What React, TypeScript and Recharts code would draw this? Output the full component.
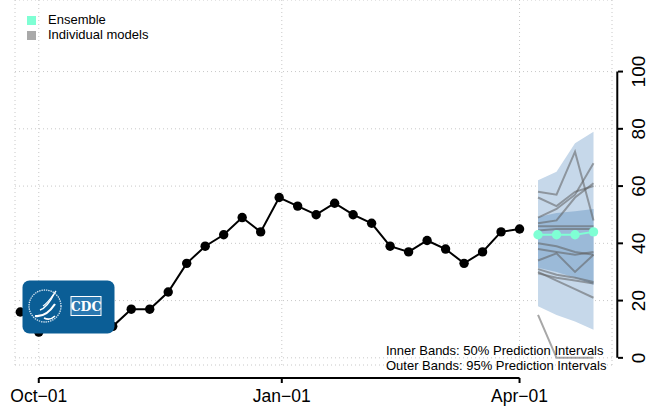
import React from "react";
import {
  ComposedChart,
  Line,
  Area,
  XAxis,
  YAxis,
  CartesianGrid,
  ReferenceLine,
} from "recharts";

// observed weekly counts (Saturdays)
const obsDates = [
  "2022-09-24", "2022-10-01", "2022-10-08", "2022-10-15", "2022-10-22", "2022-10-29",
  "2022-11-05", "2022-11-12", "2022-11-19", "2022-11-26", "2022-12-03", "2022-12-10",
  "2022-12-17", "2022-12-24", "2022-12-31", "2023-01-07", "2023-01-14", "2023-01-21",
  "2023-01-28", "2023-02-04", "2023-02-11", "2023-02-18", "2023-02-25", "2023-03-04",
  "2023-03-11", "2023-03-18", "2023-03-25", "2023-04-01",
];
const observed = [
  16, 9, 12, 13, 12, 11, 17, 17, 23, 33, 39, 43, 49, 44, 56, 53, 50, 54, 50, 47,
  39, 37, 41, 38, 33, 37, 44, 45,
];

// forecast horizon
const fcDates = ["2023-04-08", "2023-04-15", "2023-04-22", "2023-04-29"];
const ensemble = [43, 43, 43, 44];
const lo95 = [18, 15, 12.7, 9.8];
const hi95 = [62, 65, 75, 79];
const lo50 = [31.5, 30, 28, 25.5];
const hi50 = [49.2, 50.6, 51.2, 52];

// individual model forecasts
const models = [
  [58, 57, 72, 48],
  [49, 52, 57, 68],
  [47, 48, 56, 61],
  [46, 46, 46, 46],
  [44.5, 45, 45, 45],
  [40, 39, 37, 36],
  [38, 37, 36, 37],
  [34, 36.5, 30, 36],
  [31, 29, 28, 26.5],
  [30, 27, 24, 21],
  [15, 0, 0, 0],
  [29.5, 28, 27, 26],
  [56, 53, 58, 60],
];

const xTickDates = ["2022-10-01", "2023-01-01", "2023-04-01"];
const xTickLabels = ["Oct\u221201", "Jan\u221201", "Apr\u221201"];
const yTicks = [0, 20, 40, 60, 80, 100];

const toTime = (d: string) => new Date(d + "T00:00:00Z").getTime();

const xMin = toTime("2022-09-22");
const xMax = toTime("2023-05-06");
const yAxisAt = toTime("2023-05-08");
const xAxisAt = -7;

const rows: any[] = [
  ...obsDates.map((d, i) => ({ t: toTime(d), observed: observed[i] })),
  ...fcDates.map((d, i) => {
    const row: any = {
      t: toTime(d),
      ensemble: ensemble[i],
      band95: [lo95[i], hi95[i]],
      band50: [lo50[i], hi50[i]],
    };
    models.forEach((m, k) => (row["m" + k] = m[i]));
    return row;
  }),
];

const FONT = "'Liberation Sans', Arial, Helvetica, sans-serif";

const XTick = (props: any) => {
  const { x, y, payload } = props;
  const idx = xTickDates.map(toTime).indexOf(payload.value);
  return (
    <g>
      <line x1={x} x2={x} y1={y + 13} y2={y + 18} stroke="#000" strokeWidth={2} />
      <text x={x} y={y + 37} textAnchor="middle" fontSize={17.5} fontFamily={FONT} fill="#000">
        {xTickLabels[idx]}
      </text>
    </g>
  );
};

const YTick = (props: any) => {
  const { x, y, payload } = props;
  return (
    <g>
      <line x1={x + 6} x2={x + 11} y1={y} y2={y} stroke="#000" strokeWidth={2} />
      <text
        x={x + 33}
        y={y}
        transform={`rotate(-90, ${x + 33}, ${y})`}
        textAnchor="middle"
        fontSize={19}
        fontFamily={FONT}
        fill="#000"
      >
        {payload.value}
      </text>
    </g>
  );
};

const CdcLogo = () => (
  <svg style={{ position: "absolute", left: 22, top: 280 }} width={94} height={54}>
    <rect x={0.5} y={0.5} width={92} height={53} rx={7} fill="#0b5e96" />
    <circle cx={23} cy={26} r={16} fill="none" stroke="#d8e6f2" strokeWidth={1.3} strokeDasharray="1.4 0.9" />
    <path d="M13 36 C20 37 27 33 33 24" stroke="#fff" strokeWidth={2.2} fill="none" />
    <path d="M18 30 C24 28 28 22 32 14" stroke="#fff" strokeWidth={1.6} fill="none" />
    <path d="M21 26 C26 23 29 18 34 11" stroke="#fff" strokeWidth={1.3} fill="none" />
    <path d="M22 38 C26 40 30 39 33 36" stroke="#fff" strokeWidth={1.6} fill="none" />
    <rect x={49} y={16.5} width={30} height={19} fill="#2a78b0" stroke="#fff" strokeWidth={1} />
    <text x={64} y={31} textAnchor="middle" fontFamily="'DejaVu Serif', serif" fontWeight="bold" fontSize={12.5} fill="#fff">
      CDC
    </text>
  </svg>
);

const Legendish = () => (
  <div style={{ position: "absolute", left: 0, top: 0, fontFamily: FONT, fontSize: 13, color: "#000" }}>
    <div style={{ position: "absolute", left: 27, top: 16, width: 9, height: 9, background: "#7FFFD4" }} />
    <div style={{ position: "absolute", left: 48, top: 12, whiteSpace: "nowrap" }}>Ensemble</div>
    <div style={{ position: "absolute", left: 27, top: 31, width: 9, height: 9, background: "#A9A9A9" }} />
    <div style={{ position: "absolute", left: 48, top: 27, whiteSpace: "nowrap" }}>Individual models</div>
  </div>
);

const Notes = () => (
  <svg style={{ position: "absolute", left: 0, top: 0 }} width={659} height={411}>
    <text x={386} y={355} fontSize={13} fontFamily={FONT} fill="#000">
      Inner Bands: 50% Prediction Intervals
    </text>
    <text x={386} y={370} fontSize={13} fontFamily={FONT} fill="#000">
      Outer Bands: 95% Prediction Intervals
    </text>
  </svg>
);

export default function App() {
  return (
    <div style={{ position: "absolute", left: 0, top: 0, width: 659, height: 411, background: "#fff" }}>
      <ComposedChart width={659} height={411} data={rows} margin={{ top: 0, right: 0, bottom: 0, left: 15 }}>
        <CartesianGrid stroke="#c8c8c8" strokeDasharray="1 3" />
        <XAxis
          dataKey="t"
          type="number"
          domain={[xMin, xMax]}
          allowDataOverflow
          ticks={xTickDates.map(toTime)}
          interval={0}
          tick={<XTick />}
          tickLine={false}
          axisLine={false}
          tickSize={0}
          tickMargin={0}
          height={46}
        />
        <YAxis
          orientation="right"
          type="number"
          domain={[-2.5, 125]}
          allowDataOverflow
          ticks={yTicks}
          interval={0}
          tick={<YTick />}
          tickLine={false}
          axisLine={false}
          tickSize={0}
          tickMargin={0}
          width={47}
        />
        <Area dataKey="band95" stroke="none" fill="#c6d8ea" fillOpacity={1} isAnimationActive={false} />
        <Area dataKey="band50" stroke="none" fill="#9bbad8" fillOpacity={1} isAnimationActive={false} />
        {models.map((_, k) => (
          <Line
            key={k}
            dataKey={"m" + k}
            stroke="#5e5e5e"
            strokeOpacity={0.55}
            strokeWidth={2}
            dot={false}
            activeDot={false}
            isAnimationActive={false}
          />
        ))}
        <Line
          dataKey="ensemble"
          stroke="#7FFFD4"
          strokeWidth={2}
          dot={{ r: 4.7, fill: "#7FFFD4", stroke: "none" }}
          activeDot={false}
          isAnimationActive={false}
        />
        <Line
          dataKey="observed"
          stroke="#000"
          strokeWidth={2}
          dot={{ r: 4.7, fill: "#000", stroke: "none" }}
          activeDot={false}
          isAnimationActive={false}
        />
        <ReferenceLine
          segment={[{ x: toTime(xTickDates[0]), y: xAxisAt }, { x: toTime(xTickDates[2]), y: xAxisAt }]}
          stroke="#000"
          strokeWidth={2}
          ifOverflow="visible"
        />
        <ReferenceLine
          segment={[{ x: yAxisAt, y: 0 }, { x: yAxisAt, y: 100 }]}
          stroke="#000"
          strokeWidth={2}
          ifOverflow="visible"
        />
      </ComposedChart>
      <Legendish />
      <Notes />
      <CdcLogo />
    </div>
  );
}
